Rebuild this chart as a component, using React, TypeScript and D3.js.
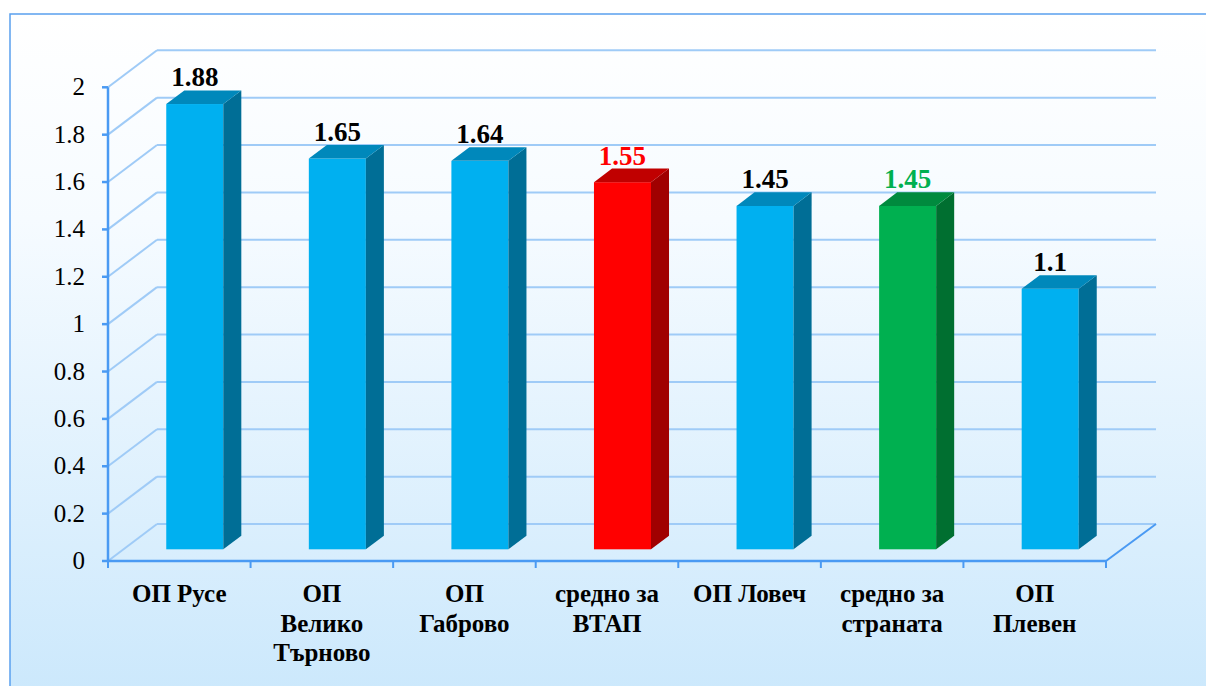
import React from "react";
import * as d3 from "d3";

const categories: string[][] = [
  ["ОП Русе"],
  ["ОП", "Велико", "Търново"],
  ["ОП", "Габрово"],
  ["средно за", "ВТАП"],
  ["ОП Ловеч"],
  ["средно за", "страната"],
  ["ОП", "Плевен"],
];
const values = [1.88, 1.65, 1.64, 1.55, 1.45, 1.45, 1.1];
const kinds = ["op", "op", "op", "red", "op", "green", "op"];
const yTicks = [0, 0.2, 0.4, 0.6, 0.8, 1, 1.2, 1.4, 1.6, 1.8, 2];
const yTickLabels = ["0", "0.2", "0.4", "0.6", "0.8", "1", "1.2", "1.4", "1.6", "1.8", "2"];

const palette: Record<string, { front: string; top: string; side: string; label: string }> = {
  op: { front: "#00b0f0", top: "#0088bb", side: "#006e96", label: "#000000" },
  red: { front: "#ff0000", top: "#c00000", side: "#a00000", label: "#ff0000" },
  green: { front: "#00b050", top: "#008a3e", side: "#006f30", label: "#00b050" },
};

const W = 1206;
const H = 686;
const left = 108;
const right = 1106;
const base = 561;
const DX = 49;
const DY = -37;
const d0 = 0.316;
const d1 = 0.684;
const serif =
  "'Times New Roman', Times, Tinos, 'Liberation Serif', 'DejaVu Serif', 'Noto Serif', FreeSerif, serif";

export default function App() {
  const x = d3
    .scaleBand<number>()
    .domain(values.map((_, i) => i))
    .range([left, right])
    .paddingInner(0.6)
    .paddingOuter(0.3);
  const step = (right - left) / values.length;
  const y = d3.scaleLinear().domain([0, 2]).range([base, 87.3]);
  const gridColor = "#9fcbf7";
  const axisColor = "#4a9af3";

  return (
    <svg
      width={W}
      height={H}
      style={{ position: "absolute", left: 0, top: 0, fontFamily: serif }}
      xmlns="http://www.w3.org/2000/svg"
    >
      <defs>
        <linearGradient id="bg" x1="0" y1="0" x2="0" y2="1">
          <stop offset="0" stopColor="#ffffff" />
          <stop offset="0.3" stopColor="#f6fbff" />
          <stop offset="1" stopColor="#cbe8fc" />
        </linearGradient>
      </defs>
      <rect x={0} y={0} width={W} height={H} fill="#ffffff" />
      <rect x={10} y={14} width={W} height={H} fill="url(#bg)" stroke="#5aa0ee" strokeWidth={1.5} />

      {yTicks.map((t, i) => (
        <g key={"g" + i}>
          <line x1={left} y1={y(t)} x2={left + DX} y2={y(t) + DY} stroke={gridColor} strokeWidth={2} />
          <line x1={left + DX} y1={y(t) + DY} x2={right + DX + 1} y2={y(t) + DY} stroke={gridColor} strokeWidth={2} />
        </g>
      ))}

      <line x1={right} y1={base} x2={right + DX + 1} y2={base + DY} stroke={axisColor} strokeWidth={2} />

      {values.map((v, i) => {
        const c = palette[kinds[i]];
        const fx = (x(i) as number) + DX * d0;
        const bw = x.bandwidth();
        const fy = y(v) + DY * d0;
        const fb = base + DY * d0;
        const ddx = DX * (d1 - d0);
        const ddy = DY * (d1 - d0);
        const top = `M${fx},${fy} L${fx + bw},${fy} L${fx + bw + ddx},${fy + ddy} L${fx + ddx},${fy + ddy} Z`;
        const side = `M${fx + bw},${fy} L${fx + bw + ddx},${fy + ddy} L${fx + bw + ddx},${fb + ddy} L${fx + bw},${fb} Z`;
        return (
          <g key={"b" + i}>
            <rect x={fx} y={fy} width={bw} height={fb - fy} fill={c.front} />
            <path d={side} fill={c.side} />
            <path d={top} fill={c.top} />
            <text
              x={fx + bw / 2}
              y={fy + ddy - 4}
              textAnchor="middle"
              fontFamily={serif}
              fontWeight="bold"
              fontSize={27}
              fill={c.label}
            >
              {String(v)}
            </text>
          </g>
        );
      })}

      <line x1={left} y1={y(2)} x2={left} y2={base} stroke={axisColor} strokeWidth={2.5} />
      {yTicks.map((t, i) => (
        <g key={"t" + i}>
          <line x1={left - 6} y1={y(t)} x2={left} y2={y(t)} stroke={axisColor} strokeWidth={2.5} />
          <text x={85} y={y(t) + 8} textAnchor="end" fontFamily={serif} fontSize={25} fill="#000">
            {yTickLabels[i]}
          </text>
        </g>
      ))}

      <line x1={left} y1={base} x2={right} y2={base} stroke={axisColor} strokeWidth={2.5} />
      {d3.range(values.length + 1).map((k) => (
        <line key={"ct" + k} x1={left + k * step} y1={base} x2={left + k * step} y2={base + 7} stroke={axisColor} strokeWidth={2} />
      ))}
      {categories.map((lines, i) => (
        <text
          key={"c" + i}
          textAnchor="middle"
          fontFamily={serif}
          fontWeight="bold"
          fontSize={25}
          fill="#000"
        >
          {lines.map((ln, j) => (
            <tspan key={j} x={left + step * (i + 0.5)} y={602 + j * 29.5}>
              {ln}
            </tspan>
          ))}
        </text>
      ))}
    </svg>
  );
}
